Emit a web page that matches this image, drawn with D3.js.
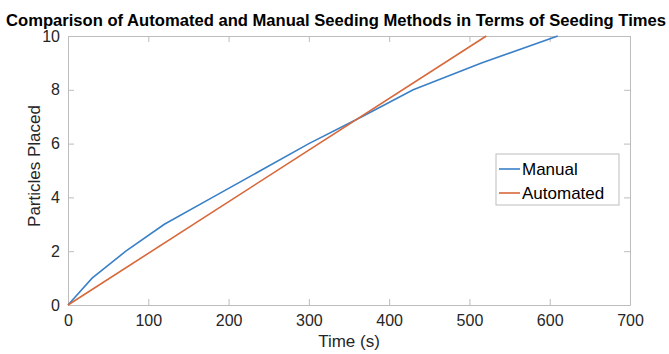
<!DOCTYPE html>
<html>
<head>
<meta charset="utf-8">
<script src="https://cdn.jsdelivr.net/npm/d3@7"></script>
<style>
  body { margin: 0; background: #fff; }
  text { font-family: "Liberation Sans", Arial, sans-serif; }
</style>
</head>
<body>
<div id="chart"></div>
<script>
// data
var manualTime = [0, 30, 72, 120, 180, 240, 300, 366, 430, 515, 610];
var manualCount = [0, 1, 2, 3, 4, 5, 6, 7, 8, 9, 10];
var autoTime = [0, 521];
var autoCount = [0, 10];
var xTicks = [0, 100, 200, 300, 400, 500, 600, 700];
var yTicks = [0, 2, 4, 6, 8, 10];
var seriesNames = ["Manual", "Automated"];
var seriesColors = ["#3A80C8", "#D8683A"];

var width = 669, height = 354;
var margin = {left: 68, right: 39, top: 36, bottom: 49};

var svg = d3.select("#chart").append("svg")
    .attr("width", width)
    .attr("height", height);

var x = d3.scaleLinear().domain([0, 700]).range([margin.left, width - margin.right]);
var y = d3.scaleLinear().domain([0, 10]).range([height - margin.bottom, margin.top]);

var tickLen = 6;
var axisColor = "#bdbdbd";
var textColor = "#262626";

// axes (box with inward ticks)
var xAxisB = d3.axisBottom(x).tickValues(xTicks).tickSizeInner(-tickLen).tickSizeOuter(0).tickPadding(10);
var xAxisT = d3.axisTop(x).tickValues(xTicks).tickSizeInner(-tickLen).tickSizeOuter(0).tickFormat("");
var yAxisL = d3.axisLeft(y).tickValues(yTicks).tickSizeInner(-tickLen).tickSizeOuter(0).tickPadding(8);
var yAxisR = d3.axisRight(y).tickValues(yTicks).tickSizeInner(-tickLen).tickSizeOuter(0).tickFormat("");

function styleAxis(g) {
    g.selectAll("path").attr("stroke", axisColor);
    g.selectAll("line").attr("stroke", axisColor);
    g.selectAll("text").attr("fill", textColor).style("font-size", "16px")
        .style("font-family", "'Liberation Sans', Arial, sans-serif");
}

svg.append("g").attr("transform", "translate(0," + y(0) + ")").call(xAxisB).call(styleAxis);
svg.append("g").attr("transform", "translate(0," + y(10) + ")").call(xAxisT).call(styleAxis);
svg.append("g").attr("transform", "translate(" + x(0) + ",0)").call(yAxisL).call(styleAxis);
svg.append("g").attr("transform", "translate(" + x(700) + ",0)").call(yAxisR).call(styleAxis);

// lines
var line = d3.line()
    .x(function (d) { return x(d[0]); })
    .y(function (d) { return y(d[1]); });

var manualData = manualTime.map(function (t, i) { return [t, manualCount[i]]; });
var autoData = autoTime.map(function (t, i) { return [t, autoCount[i]]; });

svg.append("path").datum(manualData)
    .attr("d", line).attr("fill", "none")
    .attr("stroke", seriesColors[0]).attr("stroke-width", 1.6);

svg.append("path").datum(autoData)
    .attr("d", line).attr("fill", "none")
    .attr("stroke", seriesColors[1]).attr("stroke-width", 1.6);

// title and labels
svg.append("text")
    .attr("x", 336).attr("y", 26)
    .attr("text-anchor", "middle")
    .attr("textLength", 660).attr("lengthAdjust", "spacingAndGlyphs")
    .style("font-weight", "bold").style("font-size", "16px")
    .attr("fill", "#000")
    .text("Comparison of Automated and Manual Seeding Methods in Terms of Seeding Times");

svg.append("text")
    .attr("x", (x(0) + x(700)) / 2).attr("y", 347)
    .attr("text-anchor", "middle")
    .style("font-size", "17px").attr("fill", textColor)
    .text("Time (s)");

svg.append("text")
    .attr("transform", "translate(40,166) rotate(-90)")
    .attr("text-anchor", "middle")
    .style("font-size", "17px").attr("fill", textColor)
    .text("Particles Placed");

// legend
var legend = svg.append("g").attr("transform", "translate(496,154)");
legend.append("rect")
    .attr("width", 123).attr("height", 51)
    .attr("fill", "#fff").attr("stroke", "#bdbdbd");

legend.selectAll("g.item")
    .data(seriesNames)
    .enter().append("g")
    .attr("class", "item")
    .attr("transform", function (d, i) { return "translate(0," + (15 + i * 24) + ")"; })
    .each(function (d, i) {
        var g = d3.select(this);
        g.append("line").attr("x1", 3).attr("x2", 24).attr("y1", 0).attr("y2", 0)
            .attr("stroke", seriesColors[i]).attr("stroke-width", 1.6);
        g.append("text").attr("x", 26).attr("y", 6)
            .style("font-size", "17px").attr("fill", "#000").text(d);
    });
</script>
</body>
</html>
